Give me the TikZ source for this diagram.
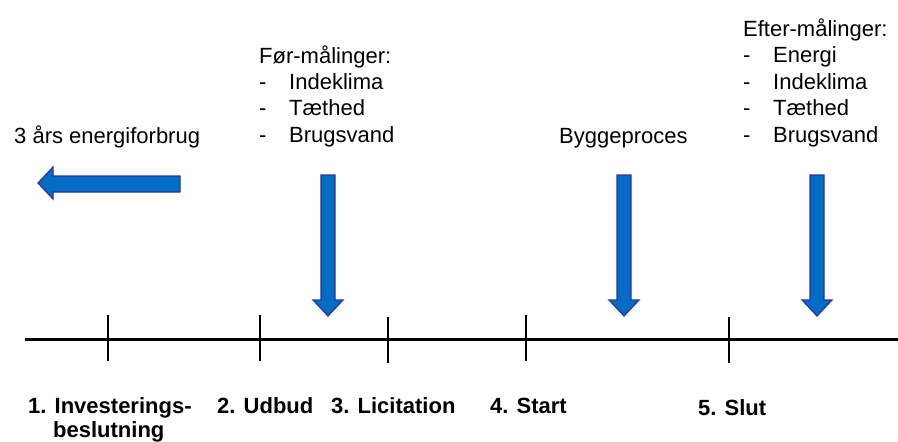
\documentclass[tikz,border=0pt]{standalone}
\usepackage{fontspec}
\setmainfont{Liberation Sans}
\definecolor{arrfill}{RGB}{0,108,196}
\definecolor{arrdraw}{RGB}{46,52,150}
\begin{document}
\begin{tikzpicture}[x=1pt,y=-1pt,
  txt/.style={anchor=base west,inner sep=0pt,font=\fontsize{22}{26}\selectfont},
  lbl/.style={anchor=base west,inner sep=0pt,font=\fontsize{22}{24}\selectfont\bfseries},
  blockarrow/.style={fill=arrfill,draw=arrdraw,line width=1.2pt,line join=miter},
  axis/.style={line width=3pt,black},
  tick/.style={line width=2.5pt,black}]
\useasboundingbox (0,0) rectangle (898,442);
% timeline
\coordinate (L) at (25,339);
\coordinate (R) at (898,339);
\draw[axis] (L) -- (R);
\foreach \n/\x/\a/\b in {t1/108/315/361,t2/260/315/361,t3/388/317/363,t4/526/315/361,t5/729/317/363}{
  \coordinate (\n a) at (\x,\a);
  \coordinate (\n b) at (\x,\b);
  \draw[tick] (\n a) -- (\n b);
}
% labels
\node[lbl] (l1) at (28,413) {1. Investerings-};
\node[lbl] (l1b) at (53,437) {beslutning};
\node[lbl] (l2) at (217,413) {2. Udbud};
\node[lbl] (l3) at (331,413) {3. Licitation};
\node[lbl] (l4) at (490,413) {4. Start};
\node[lbl] (l5) at (698,415) {5. Slut};
% left arrow
\draw[blockarrow] (38,183) -- (53,167) -- (53,176) -- (180,176) -- (180,192) -- (53,192) -- (53,199) -- cycle;
% down arrows
\foreach \c in {328,624,817}{
  \draw[blockarrow] (\c-7,175) -- (\c+7,175) -- (\c+7,300) -- (\c+15,300) -- (\c,316) -- (\c-15,300) -- (\c-7,300) -- cycle;
}
% texts
\node[txt] (e3) at (14,143) {3 års energiforbrug};
\node[txt] (bp) at (559,143) {Byggeproces};
\node[txt] (f0) at (259,63) {Før-målinger:};
\foreach \n/\y/\t in {f1/89/Indeklima,f2/115/Tæthed,f3/142/Brugsvand}{
  \node[txt] (\n d) at (259,\y) {-};
  \node[txt] (\n) at (289,\y) {\t};
}
\node[txt] (a0) at (743,36) {Efter-målinger:};
\foreach \n/\y/\t in {a1/62/Energi,a2/89/Indeklima,a3/115/Tæthed,a4/142/Brugsvand}{
  \node[txt] (\n d) at (743,\y) {-};
  \node[txt] (\n) at (773,\y) {\t};
}
\end{tikzpicture}
\end{document}
